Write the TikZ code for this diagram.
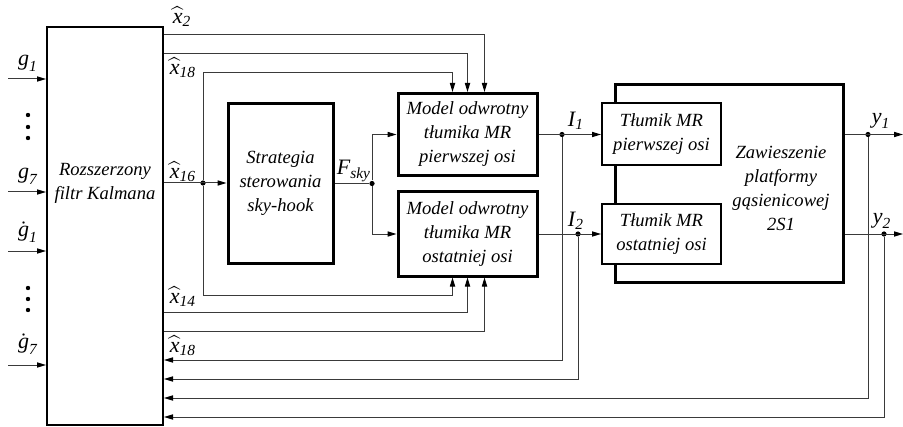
\documentclass[tikz,border=0pt]{standalone}
\usepackage{fontspec}
\usepackage{amsmath}
\setmainfont{Liberation Serif}
\usetikzlibrary{arrows.meta,positioning,calc}
\definecolor{fg}{HTML}{000000}
\definecolor{stroke}{HTML}{3A3A3A}

\begin{document}
\begin{tikzpicture}[
  x=0.5pt, y=-0.5pt,
  font=\itshape\fontsize{9.3}{12}\selectfont, >={Triangle[length=4.5pt,width=2.6pt,color=fg]},
  every node/.append style={text=fg},
  blk/.style={draw=fg, line width=1.5pt, fill=white, align=center, inner sep=0pt},
  thinblk/.style={draw=fg, line width=1pt, fill=white, align=center, inner sep=0pt},
  sig/.style={draw=stroke, line width=0.5pt},
  dot/.style={circle, fill=fg, inner sep=0pt, minimum size=2.6pt},
  lbl/.style={font=\itshape\fontsize{11}{13}\selectfont, inner sep=0pt},
]
\useasboundingbox (0,0) rectangle (903,427);
% blocks
\node[thinblk, minimum width=58pt, minimum height=199pt] (kf) at (105,226) {};
\node[align=center] (kftxt) at (105,183) {Rozszerzony\\filtr Kalmana};
\node[blk, minimum width=52.5pt, minimum height=79.5pt] (st) at (280.5,183.5)
  {Strategia\\sterowania\\sky-hook};
\node[blk, minimum width=69.5pt, minimum height=41pt] (m1) at (467.5,134.5)
  {Model odwrotny\\tłumika MR\\pierwszej osi};
\node[blk, minimum width=69.5pt, minimum height=42pt] (m2) at (467.5,234)
  {Model odwrotny\\tłumika MR\\ostatniej osi};
\node[blk, minimum width=114pt, minimum height=98.5pt] (zw) at (729,183.5) {};
\node[align=center] (zwtxt) at (781,188) {Zawieszenie\\platformy\\gąsienicowej\\2S1};
\node[thinblk, minimum width=59.5pt, minimum height=31pt] (t1) at (661.5,134.5)
  {Tłumik MR\\pierwszej osi};
\node[thinblk, minimum width=59.5pt, minimum height=30pt] (t2) at (661.5,234)
  {Tłumik MR\\ostatniej osi};
% inputs of the filter
\coordinate (in1) at (8,79);
\coordinate (in2) at (8,192);
\coordinate (in3) at (8,251);
\coordinate (in4) at (8,365);
\foreach \i in {1,...,4} \draw[sig,->] (in\i) -- (kf.west |- in\i);
\foreach \y in {115,127,138,288,299,310} \fill[fg] (28,\y) circle (1.1pt);
\node[lbl] (g1) at (28,63) {$\textit{g}_{\textit{1}}$};
\node[lbl] (g7) at (28,176) {$\textit{g}_{\textit{7}}$};
\node[lbl] (gd1) at (28,232) {$\dot{\textit{g}}_{\textit{1}}$};
\node[lbl] (gd7) at (28,344) {$\dot{\textit{g}}_{\textit{7}}$};
% state estimates
\node[dot] (j16) at (203,183) {};
\draw[sig,->] (kf.east |- j16) -- (st.west |- j16);
\draw[sig,->] ($(kf.north east)+(0,9)$) -| ($(m1.north)+(17,0)$);
\draw[sig,->] ($(kf.north east)+(0,28)$) -| (m1.north);
\draw[sig,->] (j16) |- ($(m1.north)+(-15,-19)$) -- ($(m1.north)+(-15,0)$);
\draw[sig,->] (j16) |- ($(m2.south)+(-15,18)$) -- ($(m2.south)+(-15,0)$);
\draw[sig,->] ($(kf.north east)+(0,286)$) -| (m2.south);
\draw[sig,->] ($(kf.north east)+(0,305)$) -| ($(m2.south)+(17,0)$);
\node[lbl] (x2) at (182,17) {$\widehat{\textit{x}}_{\textit{2}}$};
\node[lbl] (x18a) at (183,68) {$\widehat{\textit{x}}_{\textit{18}}$};
\node[lbl] (x16) at (183,172) {$\widehat{\textit{x}}_{\textit{16}}$};
\node[lbl] (x14) at (183,297) {$\widehat{\textit{x}}_{\textit{14}}$};
\node[lbl] (x18b) at (183,346) {$\widehat{\textit{x}}_{\textit{18}}$};
% sky-hook force
\node[dot] (jF) at (372,183.5) {};
\draw[sig] (st.east) -- (jF);
\draw[sig,->] (jF) |- (m1.west);
\draw[sig,->] (jF) |- (m2.west);
\node[lbl] (fsky) at (354,171) {$\textit{F}_{\textit{sky}}$};
% currents
\node[dot] (jI1) at (562,134.5) {};
\node[dot] (jI2) at (578,234) {};
\draw[sig,->] (m1.east) -- (t1.west);
\draw[sig,->] (m2.east) -- (t2.west);
\node[lbl] (i1) at (576,121) {$\textit{I}_{\textit{1}}$};
\node[lbl] (i2) at (576,221) {$\textit{I}_{\textit{2}}$};
% outputs
\coordinate (out1) at (903,134.5);
\coordinate (out2) at (903,234);
\node[dot] (jy1) at (868,134.5) {};
\node[dot] (jy2) at (884,234) {};
\draw[sig,->] (zw.east |- t1) -- (out1);
\draw[sig,->] (zw.east |- t2) -- (out2);
\node[lbl] (y1) at (881,121) {$\textit{y}_{\textit{1}}$};
\node[lbl] (y2) at (882,221) {$\textit{y}_{\textit{2}}$};
% feedback to the filter
\draw[sig,->] (jI1) |- ($(kf.north east)+(0,334)$);
\draw[sig,->] (jI2) |- ($(kf.north east)+(0,353)$);
\draw[sig,->] (jy1) |- ($(kf.north east)+(0,372)$);
\draw[sig,->] (jy2) |- ($(kf.north east)+(0,391)$);
\end{tikzpicture}
\end{document}
